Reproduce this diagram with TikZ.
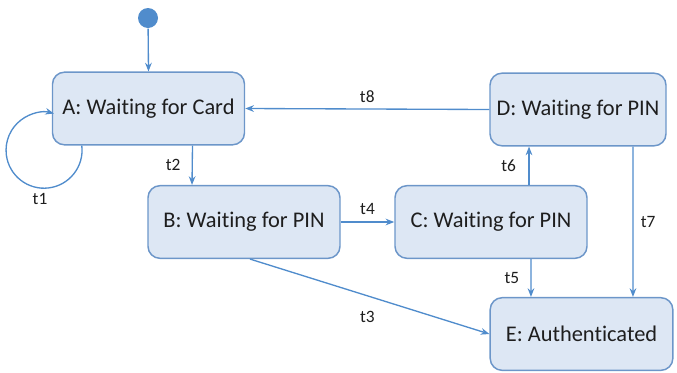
\documentclass[tikz,border=0pt]{standalone}
\usepackage{fontspec}
\setmainfont{Carlito}[Ligatures=NoCommon]
\usetikzlibrary{arrows.meta}
\definecolor{boxfill}{RGB}{221,231,244}
\definecolor{boxline}{RGB}{108,150,201}
\definecolor{arrowline}{RGB}{80,140,204}
\definecolor{textgray}{RGB}{30,30,30}
\newcommand{\shadingbox}{boxfill}
\tikzset{every path/.style={line width=1 pt},
  state/.style={draw=boxline, fill=\shadingbox, rounded corners=9pt, line width=1.1pt,
    minimum width=144pt, minimum height=54.5pt, text=textgray, font=\fontsize{16.8}{20}\selectfont},
  trans/.style={draw=arrowline, -{Stealth[length=6.5pt,width=5pt]}},
  lbl/.style={text=textgray, font=\fontsize{13}{15}\selectfont}}

\begin{document}
\begin{tikzpicture}[x=0.75pt,y=0.75pt]
\useasboundingbox (0,0) rectangle (677,-372);
\node[circle, fill=arrowline, minimum size=15pt, inner sep=0pt] (init) at (148,-18) {};
\node[state] (A) at (148.5,-108.5) {A: Waiting for Card};
\node[state] (B) at (244,-222) {B: Waiting for PIN};
\node[state] (C) at (491,-222) {C: Waiting for PIN};
\node[state, minimum width=132pt] (D) at (578,-109.5) {D: Waiting for PIN};
\node[state, minimum width=137pt] (E) at (581.5,-334) {E: Authenticated};
\draw[trans] (init) -- (A.north);
\draw[trans] ([xshift=22.5pt]A.south west) arc[start angle=7, end angle=-285, radius=28.5pt];
\node[lbl] (t1) at (40,-199) {t1};
\draw[trans] ([xshift=33pt]A.south) -- node[lbl, left=5pt] (t2) {t2} ([xshift=-39pt]B.north);
\draw[trans] (B.east) -- node[lbl, above=2pt] (t4) {t4} (C.west);
\draw[trans] (D.west) -- node[lbl, above=1pt] (t8) {t8} (A.east);
\draw[trans] ([xshift=28.5pt]C.north) -- node[lbl, left=6pt] (t6) {t6} ([xshift=-36.75pt]D.south);
\draw[trans] ([xshift=30pt]C.south) -- node[lbl, left=5pt] (t5) {t5} ([xshift=-37.9pt]E.north);
\draw[trans] ([xshift=41.25pt]D.south) -- node[lbl, right=2pt] (t7) {t7} ([xshift=38.6pt]E.north);
\draw[trans] ([xshift=4.5pt]B.south) -- node[lbl, pos=0.49, below=8pt] (t3) {t3} (E.west);
\end{tikzpicture}
\end{document}
